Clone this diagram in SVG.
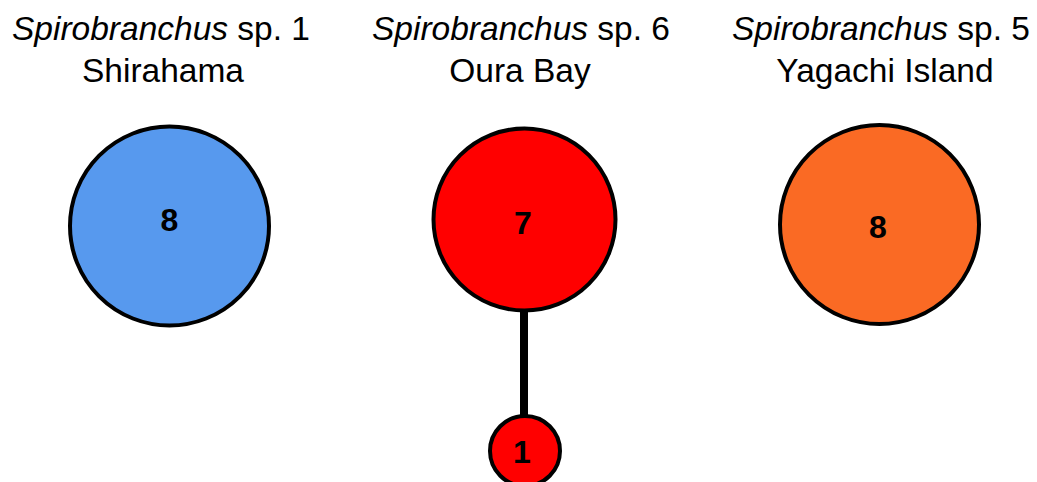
<svg xmlns="http://www.w3.org/2000/svg" width="1037" height="482" viewBox="0 0 1037 482">
<style>
.t{font-family:"Liberation Sans",Arial,sans-serif;font-size:33.5px;fill:#000;text-anchor:middle}
.i{font-style:italic}
.n{stroke:#000;stroke-width:4}
.l{font-family:"Liberation Sans",Arial,sans-serif;font-size:32px;font-weight:bold;fill:#000;text-anchor:middle}
</style>
<rect width="1037" height="482" fill="#fff"/>
<g id="titles">
<text class="t" x="161" y="40"><tspan class="i">Spirobranchus</tspan> sp. 1</text>
<text class="t" x="163" y="82">Shirahama</text>
<text class="t" x="521" y="40"><tspan class="i">Spirobranchus</tspan> sp. 6</text>
<text class="t" x="520" y="82">Oura Bay</text>
<text class="t" x="881" y="40"><tspan class="i">Spirobranchus</tspan> sp. 5</text>
<text class="t" x="885" y="82">Yagachi Island</text>
</g>
<g id="connectors">
<line x1="524" y1="312" x2="524" y2="416" stroke="#000" stroke-width="8"/>
</g>
<g id="node-sp1">
<circle class="n" cx="169.5" cy="226" r="99.5" fill="#5799EE"/>
<text class="l" x="169.5" y="231">8</text>
</g>
<g id="node-sp6">
<circle class="n" cx="524.5" cy="219.5" r="91" fill="#FF0000"/>
<text class="l" x="523" y="234">7</text>
</g>
<g id="node-sp6b">
<circle class="n" cx="525" cy="451" r="35" fill="#FF0000"/>
<text class="l" x="522" y="463">1</text>
</g>
<g id="node-sp5">
<circle class="n" cx="879.5" cy="224.5" r="99.5" fill="#FA6A24"/>
<text class="l" x="878" y="238">8</text>
</g>
</svg>
